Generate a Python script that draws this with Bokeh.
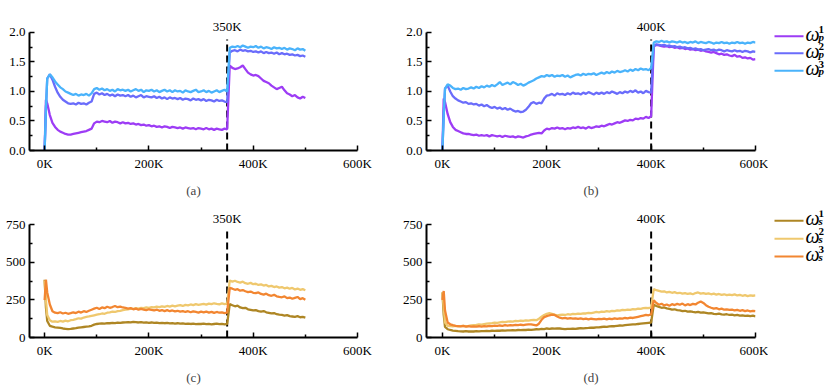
from bokeh.plotting import figure
from bokeh.layouts import column, row
from bokeh.models import Range1d, FixedTicker, NumeralTickFormatter
from bokeh.core.properties import value
from bokeh.embed import file_html
from bokeh.resources import INLINE

# ---------------- data ----------------
steps_a = [0, 2500] + list(range(5000, 500001, 5000))
steps_b = [0, 2500] + list(range(5000, 600001, 5000))

switch_a = 350000
switch_b = 400000
switch_labels = ["350K", "400K"]
captions = ["(a)", "(b)", "(c)", "(d)"]

x_ticks = [0, 200000, 400000, 600000]
x_minor = [100000, 300000, 500000]
x_tick_labels = ["0K", "200K", "400K", "600K"]
p_ticks = [0.0, 0.5, 1.0, 1.5, 2.0]
p_minor = [0.25, 0.75, 1.25, 1.75]
s_ticks = [0, 250, 500, 750]
s_minor = [125, 375, 625]

p_colors = ["#9d3cf5", "#6a6cfb", "#4ab3fb"]
s_colors = ["#ae8624", "#efc86e", "#f28631"]
legend_sup = ["1", "2", "3"]

# panel (a): omega_p, switch at 350K
p1_a = [0.00, 0.86,
        0.80, 0.60, 0.47, 0.40, 0.35, 0.32, 0.30, 0.28, 0.27, 0.27,
        0.28, 0.29, 0.30, 0.31, 0.32, 0.33, 0.35, 0.37, 0.46, 0.49,
        0.48, 0.50, 0.49, 0.48, 0.50, 0.47, 0.49, 0.48, 0.46, 0.48,
        0.46, 0.47, 0.45, 0.46, 0.44, 0.45, 0.43, 0.44, 0.42, 0.43,
        0.41, 0.42, 0.40, 0.41, 0.39, 0.41, 0.40, 0.38, 0.40, 0.39,
        0.38, 0.39, 0.37, 0.39, 0.38, 0.37, 0.38, 0.36, 0.38, 0.37,
        0.36, 0.38, 0.36, 0.37, 0.35, 0.37, 0.36, 0.35, 0.37, 0.36,
        1.44, 1.40, 1.38, 1.39, 1.41, 1.44, 1.38, 1.32, 1.29, 1.27,
        1.28, 1.26, 1.22, 1.18, 1.16, 1.14, 1.10, 1.07, 1.04, 1.06,
        1.08, 1.02, 0.97, 0.95, 0.92, 0.94, 0.90, 0.88, 0.91, 0.89]
p2_a = [0.00, 0.70,
        1.22, 1.29, 1.20, 1.08, 0.98, 0.91, 0.86, 0.83, 0.80, 0.79,
        0.80, 0.78, 0.81, 0.79, 0.80, 0.78, 0.81, 0.83, 0.96, 0.98,
        0.95, 0.97, 0.94, 0.96, 0.93, 0.95, 0.92, 0.95, 0.93, 0.94,
        0.92, 0.94, 0.91, 0.93, 0.90, 0.92, 0.94, 0.90, 0.92, 0.91,
        0.90, 0.92, 0.89, 0.91, 0.88, 0.90, 0.87, 0.90, 0.88, 0.89,
        0.87, 0.89, 0.86, 0.88, 0.87, 0.85, 0.88, 0.86, 0.87, 0.85,
        0.87, 0.84, 0.86, 0.85, 0.83, 0.86, 0.84, 0.85, 0.83, 0.82,
        1.66, 1.69, 1.70, 1.68, 1.71, 1.69, 1.70, 1.68, 1.69, 1.67,
        1.68, 1.66, 1.68, 1.65, 1.67, 1.65, 1.66, 1.64, 1.66, 1.63,
        1.65, 1.63, 1.64, 1.62, 1.63, 1.61, 1.62, 1.60, 1.61, 1.59]
p3_a = [0.00, 0.70,
        1.22, 1.29, 1.24, 1.17, 1.12, 1.07, 1.04, 1.00, 0.98, 0.96,
        0.94, 0.96, 0.93, 0.95, 0.94, 0.96, 0.93, 0.97, 1.04, 1.06,
        1.03, 1.05, 1.02, 1.04, 1.01, 1.03, 1.00, 1.04, 1.02, 1.03,
        1.01, 1.03, 1.00, 1.02, 1.04, 1.01, 1.03, 0.99, 1.02, 1.01,
        1.03, 1.00, 1.02, 0.99, 1.01, 1.03, 1.00, 1.02, 0.99, 1.02,
        1.00, 1.01, 0.98, 1.02, 1.00, 0.99, 1.01, 1.03, 0.99, 1.00,
        1.02, 0.99, 1.01, 0.98, 1.00, 1.02, 0.99, 1.01, 1.03, 1.00,
        1.74, 1.76, 1.75, 1.77, 1.75, 1.78, 1.76, 1.74, 1.76, 1.75,
        1.77, 1.74, 1.76, 1.73, 1.75, 1.74, 1.72, 1.75, 1.73, 1.74,
        1.72, 1.74, 1.71, 1.73, 1.72, 1.70, 1.73, 1.71, 1.72, 1.69]

# panel (b): omega_p, switch at 400K
p1_b = [0.00, 0.88,
        0.82, 0.62, 0.48, 0.40, 0.35, 0.33, 0.31, 0.29, 0.28, 0.28,
        0.27, 0.26, 0.27, 0.25, 0.26, 0.25, 0.26, 0.24, 0.26, 0.25,
        0.24, 0.25, 0.23, 0.25, 0.24, 0.23, 0.24, 0.22, 0.24, 0.23,
        0.22, 0.24, 0.25, 0.27, 0.28, 0.29, 0.30, 0.29, 0.34, 0.37,
        0.36, 0.38, 0.37, 0.39, 0.37, 0.38, 0.36, 0.38, 0.37, 0.39,
        0.38, 0.40, 0.38, 0.39, 0.37, 0.40, 0.38, 0.39, 0.41, 0.40,
        0.42, 0.41, 0.43, 0.45, 0.44, 0.46, 0.48, 0.47, 0.49, 0.51,
        0.50, 0.52, 0.51, 0.54, 0.53, 0.55, 0.54, 0.57, 0.55, 0.58,
        1.76, 1.79, 1.78, 1.77, 1.76, 1.77, 1.75, 1.76, 1.74, 1.75,
        1.73, 1.74, 1.72, 1.73, 1.71, 1.72, 1.70, 1.71, 1.69, 1.70,
        1.68, 1.67, 1.66, 1.67, 1.65, 1.63, 1.64, 1.62, 1.63, 1.61,
        1.60, 1.62, 1.59, 1.60, 1.57, 1.58, 1.56, 1.57, 1.54, 1.55]
p2_b = [0.00, 0.60,
        1.05, 1.10, 1.00, 0.92, 0.88, 0.85, 0.83, 0.81, 0.82, 0.79,
        0.80, 0.78, 0.79, 0.76, 0.78, 0.75, 0.77, 0.74, 0.72, 0.74,
        0.71, 0.73, 0.70, 0.72, 0.69, 0.71, 0.68, 0.66, 0.67, 0.65,
        0.66, 0.69, 0.74, 0.80, 0.82, 0.79, 0.81, 0.80, 0.88, 0.93,
        0.94, 0.96, 0.93, 0.97, 0.95, 0.96, 0.94, 0.97, 0.95, 0.98,
        0.96, 0.97, 0.95, 0.98, 0.96, 0.99, 0.97, 0.95, 0.98, 0.96,
        0.98, 0.96, 0.99, 0.97, 1.00, 0.98, 0.96, 0.99, 0.97, 1.00,
        0.98, 1.01, 0.99, 1.02, 0.98, 1.00, 0.97, 1.01, 0.99, 0.98,
        1.78, 1.80, 1.79, 1.78, 1.79, 1.77, 1.78, 1.76, 1.77, 1.75,
        1.76, 1.74, 1.75, 1.73, 1.74, 1.72, 1.73, 1.71, 1.72, 1.70,
        1.71, 1.72, 1.70, 1.71, 1.69, 1.71, 1.70, 1.68, 1.70, 1.69,
        1.68, 1.70, 1.68, 1.69, 1.67, 1.69, 1.68, 1.66, 1.68, 1.67]
p3_b = [0.00, 0.60,
        1.05, 1.12, 1.10, 1.06, 1.04, 1.05, 1.03, 1.06, 1.04, 1.05,
        1.07, 1.05, 1.08, 1.06, 1.09, 1.07, 1.10, 1.08, 1.11, 1.09,
        1.12, 1.16, 1.11, 1.13, 1.15, 1.12, 1.16, 1.14, 1.11, 1.13,
        1.10, 1.12, 1.15, 1.17, 1.19, 1.22, 1.24, 1.26, 1.25, 1.28,
        1.26, 1.28, 1.25, 1.27, 1.26, 1.28, 1.25, 1.27, 1.24, 1.26,
        1.28, 1.29, 1.27, 1.30, 1.28, 1.30, 1.29, 1.31, 1.28, 1.30,
        1.32, 1.30, 1.33, 1.31, 1.34, 1.32, 1.35, 1.33, 1.34, 1.36,
        1.34, 1.37, 1.35, 1.38, 1.36, 1.39, 1.37, 1.38, 1.36, 1.40,
        1.83, 1.85, 1.84, 1.86, 1.84, 1.85, 1.83, 1.85, 1.84, 1.83,
        1.85, 1.83, 1.84, 1.82, 1.84, 1.83, 1.85, 1.82, 1.84, 1.83,
        1.82, 1.84, 1.83, 1.81, 1.83, 1.82, 1.84, 1.82, 1.83, 1.81,
        1.83, 1.82, 1.84, 1.82, 1.83, 1.81, 1.83, 1.82, 1.84, 1.83]

# panel (c): omega_s, switch at 350K
s1_c = [385, 200,
        110, 78, 72, 68, 66, 64, 60, 58, 56, 57,
        60, 62, 66, 68, 70, 72, 74, 78, 86, 90,
        92, 94, 93, 96, 95, 97, 96, 99, 98, 100,
        101, 103, 100, 104, 102, 100, 103, 99, 101, 98,
        100, 97, 99, 96, 98, 95, 97, 94, 96, 93,
        95, 92, 94, 91, 93, 90, 92, 89, 91, 90,
        92, 89, 91, 88, 90, 92, 89, 91, 88, 90,
        222, 215, 208, 212, 200, 195, 198, 188, 184, 180,
        182, 176, 172, 176, 168, 164, 160, 163, 155, 152,
        150, 146, 149, 142, 140, 138, 142, 135, 137, 132]
s2_c = [380, 250,
        150, 115, 105, 108, 104, 110, 106, 112, 108, 115,
        118, 122, 128, 126, 133, 137, 140, 144, 148, 152,
        155, 160, 158, 165, 168, 172, 170, 176, 178, 182,
        185, 188, 192, 190, 195, 193, 198, 196, 200, 198,
        202, 200, 205, 203, 208, 204, 210, 206, 212, 208,
        212, 215, 210, 217, 214, 220, 216, 222, 218, 221,
        224, 219, 226, 222, 228, 224, 221, 227, 223, 226,
        380, 372, 378, 370, 366, 372, 362, 358, 364, 355,
        358, 350, 354, 346, 350, 340, 344, 336, 340, 332,
        336, 328, 332, 325, 330, 320, 326, 318, 322, 315]
s3_c = [250, 385,
        300, 220, 175, 165, 162, 168, 160, 165, 158, 162,
        168, 163, 172, 166, 175, 170, 178, 185, 192, 198,
        190, 200, 195, 205, 198, 203, 210, 202, 206, 200,
        197, 192, 196, 188, 193, 185, 190, 186, 182, 188,
        184, 180, 186, 178, 183, 176, 182, 175, 180, 174,
        178, 172, 176, 170, 175, 168, 174, 170, 166, 172,
        168, 173, 166, 171, 164, 170, 165, 168, 163, 166,
        330, 325, 318, 322, 312, 316, 308, 302, 306, 298,
        295, 300, 290, 286, 292, 282, 278, 284, 274, 270,
        268, 274, 262, 266, 258, 264, 270, 256, 262, 252]

# panel (d): omega_s, switch at 400K
s1_d = [300, 150,
        70, 55, 50, 46, 44, 42, 41, 40, 42, 40,
        41, 40, 42, 41, 43, 42, 44, 43, 45, 44,
        46, 45, 47, 46, 48, 47, 49, 48, 50, 49,
        51, 50, 52, 51, 53, 55, 54, 57, 56, 60,
        58, 60, 59, 61, 60, 58, 56, 58, 57, 59,
        58, 60, 62, 61, 63, 64, 66, 65, 67, 68,
        70, 72, 71, 74, 76, 75, 78, 80, 79, 82,
        84, 86, 88, 87, 90, 92, 94, 96, 98, 100,
        218, 210, 204, 198, 200, 194, 190, 186, 188, 182,
        180, 176, 178, 172, 174, 170, 168, 171, 166, 168,
        164, 160, 162, 158, 156, 159, 154, 152, 155, 150,
        152, 148, 150, 146, 148, 144, 146, 142, 145, 141]
s2_d = [300, 200,
        100, 78, 76, 75, 77, 74, 76, 78, 75, 77,
        80, 82, 84, 87, 86, 89, 92, 94, 96, 99,
        98, 101, 104, 102, 106, 108, 106, 110, 109, 112,
        110, 114, 112, 116, 118, 115, 125, 138, 150, 158,
        162, 158, 152, 148, 150, 152, 150, 155, 153, 157,
        155, 159, 157, 161, 160, 164, 162, 166, 170, 168,
        172, 170, 175, 173, 178, 176, 181, 179, 184, 182,
        186, 184, 189, 187, 192, 190, 195, 198, 196, 202,
        322, 315, 310, 305, 308, 300, 304, 298, 302, 295,
        298, 292, 296, 290, 294, 288, 296, 300, 292, 295,
        290, 294, 288, 292, 286, 290, 284, 288, 282, 286,
        283, 287, 280, 284, 278, 282, 276, 280, 278, 280]
s3_d = [250, 310,
        180, 100, 88, 82, 78, 76, 74, 77, 73, 75,
        72, 74, 73, 75, 72, 76, 74, 78, 75, 79,
        77, 80, 78, 82, 79, 83, 81, 84, 82, 85,
        83, 86, 88, 87, 84, 80, 92, 118, 136, 142,
        148, 152, 150, 140, 132, 128, 131, 126, 129, 125,
        128, 124, 127, 122, 126, 121, 125, 123, 120, 124,
        122, 126, 121, 125, 123, 127, 124, 128, 126, 130,
        128, 132, 130, 134, 138, 142, 146, 150, 148, 155,
        248, 230, 218, 225, 214, 220, 212, 222, 216, 224,
        218, 226, 214, 222, 216, 224, 220, 232, 240, 230,
        215, 205, 198, 192, 196, 188, 192, 185, 188, 184,
        186, 180, 184, 178, 182, 176, 180, 174, 178, 175]

for arr in (p1_a, p2_a, p3_a, s1_c, s2_c, s3_c):
    assert len(arr) == len(steps_a), len(arr)
for arr in (p1_b, p2_b, p3_b, s1_d, s2_d, s3_d):
    assert len(arr) == len(steps_b), len(arr)

SERIF = "Liberation Serif"


def panel(steps, series, colors, x_start, y_end, y_top, yticks, yminor, yfmt,
          switch, sw_label, label_y, dash_top, caption,
          width, height, bl, br, bt, bb, cap_standoff):
    p = figure(width=width, height=height,
               x_range=Range1d(x_start, 600000), y_range=Range1d(0, y_end),
               output_backend="svg", toolbar_location=None,
               min_border_left=bl, min_border_right=br,
               min_border_top=bt, min_border_bottom=bb)
    p.outline_line_color = None
    p.xgrid.visible = False
    p.ygrid.visible = False
    p.background_fill_color = "white"
    p.border_fill_color = "white"

    # vertical dashed switch marker
    p.line(x=[switch, switch], y=[0, dash_top], line_color="black",
           line_width=2, line_dash="7 4")
    for ys, c in zip(series, colors):
        p.line(x=steps, y=ys, line_color=c, line_width=2.3)
    p.text(x=[switch], y=[label_y], text=[sw_label], text_font=value(SERIF),
           text_font_size="13px", text_align="center",
           text_baseline="middle", text_color="black")

    xa = p.xaxis[0]
    xa.ticker = FixedTicker(ticks=x_ticks, minor_ticks=x_minor)
    xa.major_label_overrides = dict(zip(x_ticks, x_tick_labels))
    xa.axis_label = caption
    xa.axis_label_standoff = cap_standoff
    xa.axis_label_text_font = SERIF
    xa.axis_label_text_font_size = "13px"
    xa.axis_label_text_font_style = "normal"
    xa.major_label_standoff = 5

    ya = p.yaxis[0]
    ya.ticker = FixedTicker(ticks=yticks, minor_ticks=yminor)
    if yfmt:
        ya.formatter = NumeralTickFormatter(format=yfmt)
    ya.bounds = (0, y_top)
    ya.major_label_standoff = 4

    for ax in (xa, ya):
        ax.axis_line_width = 2
        ax.axis_line_color = "black"
        ax.major_tick_in = 5
        ax.major_tick_out = 0
        ax.minor_tick_in = 3
        ax.minor_tick_out = 0
        ax.major_tick_line_width = 1.5
        ax.minor_tick_line_width = 1.5
        ax.major_tick_line_color = "black"
        ax.minor_tick_line_color = "black"
        ax.major_label_text_font = SERIF
        ax.major_label_text_font_size = "13px"
        ax.major_label_text_color = "black"
    return p


def legend_fig(width, height, colors, sub, rows_y):
    lf = figure(width=width, height=height, x_range=Range1d(0, width),
                y_range=Range1d(height, 0), output_backend="svg",
                toolbar_location=None, x_axis_location=None,
                y_axis_location=None, min_border=0)
    lf.outline_line_color = None
    lf.grid.visible = False
    n = len(colors)
    lf.segment(x0=[6] * n, x1=[35] * n, y0=rows_y, y1=rows_y,
               line_color=colors, line_width=2)
    lf.text(x=[37] * n, y=[r - 4 for r in rows_y], text=["ω"] * n,
            text_font=value(SERIF), text_font_style="italic",
            text_font_size="20px", text_baseline="middle", text_color="black")
    lf.text(x=[50] * n, y=[r + 1 for r in rows_y], text=[sub] * n,
            text_font=value(SERIF), text_font_style="bold italic",
            text_font_size="11px", text_baseline="middle", text_color="black")
    lf.text(x=[50] * n, y=[r - 10 for r in rows_y], text=legend_sup,
            text_font=value(SERIF), text_font_style="bold",
            text_font_size="11px", text_baseline="middle", text_color="black")
    return lf


TOP_H, BOT_H = 202, 185
WA, WB, WL = 380, 388, 62

pa = panel(steps_a, [p1_a, p2_a, p3_a], p_colors, -29000, 2.237, 2.0,
           p_ticks, p_minor, "0.0", switch_a, switch_labels[0], 2.10, 1.88,
           captions[0], WA, TOP_H, 29, 23, 18, 52, 9)
pb = panel(steps_b, [p1_b, p2_b, p3_b], p_colors, -30500, 2.237, 2.0,
           p_ticks, p_minor, "0.0", switch_b, switch_labels[1], 2.10, 1.88,
           captions[1], WB, TOP_H, 46, 13, 18, 52, 9)
pc = panel(steps_a, [s1_c, s2_c, s3_c], s_colors, -29000, 846, 750,
           s_ticks, s_minor, None, switch_a, switch_labels[0], 795, 711,
           captions[2], WA, BOT_H, 29, 23, 8, 45, 9)
pd = panel(steps_b, [s1_d, s2_d, s3_d], s_colors, -30500, 846, 750,
           s_ticks, s_minor, None, switch_b, switch_labels[1], 795, 711,
           captions[3], WB, BOT_H, 46, 13, 8, 45, 9)

la = legend_fig(WL, TOP_H, p_colors, "p", [27, 53, 80])
lc = legend_fig(WL, BOT_H, s_colors, "s", [15, 41, 67])

layout = column(row(pa, pb, la), row(pc, pd, lc))
open("out.html", "w").write(file_html(layout, INLINE))
